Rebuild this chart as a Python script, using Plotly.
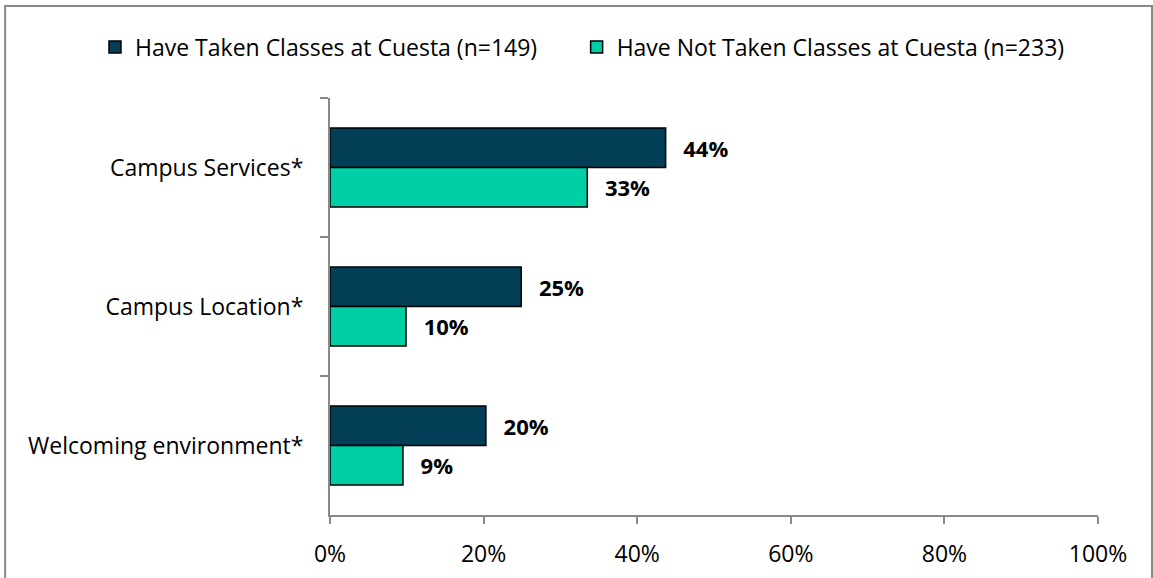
import plotly.graph_objects as go

categories = ["Campus Services*", "Campus Location*", "Welcoming environment*"]
taken = [43.7, 24.9, 20.3]
not_taken = [33.5, 9.9, 9.5]
taken_labels = ["44%", "25%", "20%"]
not_taken_labels = ["33%", "10%", "9%"]
series_names = ["Have Taken Classes at Cuesta (n=149)", "Have Not Taken Classes at Cuesta (n=233)"]
x_ticks = [0, 20, 40, 60, 80, 100]
x_tick_labels = ["0%", "20%", "40%", "60%", "80%", "100%"]

FONT = "Open Sans"
GRAY = "#898989"
TXT = 23

fig = go.Figure()
fig.add_trace(go.Bar(
    y=categories, x=taken, orientation="h", name=series_names[0] + "\u2003\u2002",
    marker=dict(color="#033F56", line=dict(color="black", width=1.5)),
    text=taken_labels, texttemplate="\u2002\u2009%{text}", textposition="outside",
    textfont=dict(family=FONT, size=22, color="black", weight="bold"),
    cliponaxis=False,
))
fig.add_trace(go.Bar(
    y=categories, x=not_taken, orientation="h", name=series_names[1],
    marker=dict(color="#00CFA6", line=dict(color="black", width=1.5)),
    text=not_taken_labels, texttemplate="\u2002\u2009%{text}", textposition="outside",
    textfont=dict(family=FONT, size=22, color="black", weight="bold"),
    cliponaxis=False,
))

fig.update_layout(
    width=1153, height=578,
    margin=dict(l=330, r=55, t=98, b=63, autoexpand=False),
    paper_bgcolor="white", plot_bgcolor="white",
    barmode="group", bargap=0.43, bargroupgap=0,
    font=dict(family=FONT, size=TXT, color="black"),
    showlegend=True,
    legend=dict(orientation="h", x=-0.306, xanchor="left", y=1.122, yanchor="middle",
                font=dict(family=FONT, size=TXT, color="black"), traceorder="normal",
                itemwidth=30, tracegroupgap=0),
    xaxis=dict(range=[0, 100], tickvals=x_ticks, ticktext=x_tick_labels,
               showgrid=False, zeroline=False, showline=True, linecolor=GRAY, linewidth=2,
               ticks="outside", ticklen=7, tickcolor=GRAY, tickwidth=2,
               ticklabelstandoff=10, tickfont=dict(family=FONT, size=TXT)),
    yaxis=dict(autorange="reversed", showgrid=False, zeroline=False, showline=True,
               linecolor=GRAY, linewidth=2, ticks="outside", ticklen=8, tickcolor=GRAY,
               tickwidth=2, tickson="boundaries", ticklabelstandoff=20,
               tickfont=dict(family=FONT, size=TXT)),
    shapes=[dict(type="rect", xref="paper", yref="paper",
                 x0=-0.423, x1=1.0703, y0=-0.16, y1=1.2206,
                 line=dict(color=GRAY, width=2), fillcolor="rgba(0,0,0,0)", layer="below")],
)

fig.write_html("out.html", post_script="document.body.style.margin='0';",
               config={"displayModeBar": False})
